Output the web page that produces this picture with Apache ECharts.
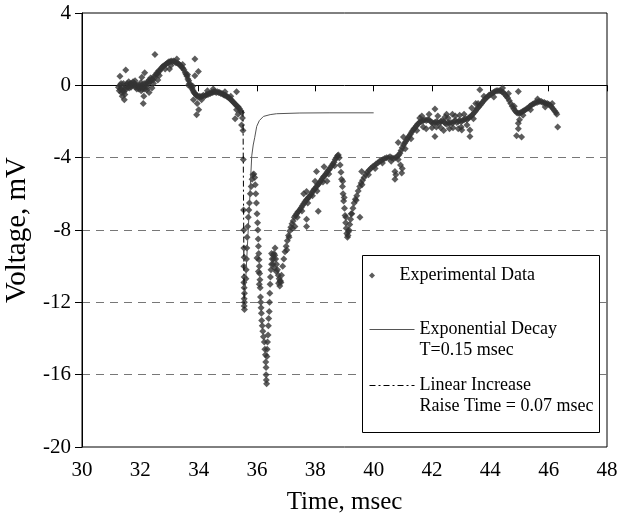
<!DOCTYPE html>
<html>
<head>
<meta charset="utf-8">
<script src="https://cdn.jsdelivr.net/npm/echarts@6.0.0/dist/echarts.min.js"></script>
<style>
html,body{margin:0;padding:0;background:#fff;}
#chart{width:629px;height:521px;}
</style>
</head>
<body>
<div id="chart"></div>
<script>
// ---- data (time in msec, voltage in mV) ----
const preSpikeData = [
[31.25,-0.1],[31.28,-0.3],[31.30,0.0],[31.32,-0.2],[31.35,-0.4],[31.37,-0.1],[31.40,-0.3],[31.42,0.1],[31.45,-0.2],[31.47,-0.5],
[31.50,0.0],[31.52,-0.2],[31.55,0.1],[31.58,-0.1],[31.60,0.2],[31.63,0.0],[31.65,0.1],[31.68,-0.1],[31.70,0.1],[31.73,0.0],
[31.75,0.2],[31.78,0.0],[31.80,0.1],[31.83,-0.1],[31.85,0.0],[31.88,-0.2],[31.90,0.0],[31.93,-0.1],[31.95,-0.2],[31.98,0.0],
[32.00,-0.1],[32.03,-0.3],[32.05,0.0],[32.08,-0.2],[32.10,-0.1],[32.13,0.1],[32.15,-0.2],[32.18,0.0],[32.20,0.1],[32.23,-0.1],
[32.25,0.2],[32.28,0.1],[32.30,0.3],[32.33,0.2],[32.35,0.4],[32.38,0.3],[32.40,0.35],[32.44,0.3],[32.47,0.5],[32.50,0.45],
[32.54,0.6],[32.57,0.7],[32.60,0.65],[32.63,0.8],[32.67,0.8],[32.70,0.9],[32.74,1.0],[32.78,1.05],[32.82,1.1],[32.86,1.15],
[32.90,1.2],[32.94,1.25],[32.98,1.3],[33.02,1.3],[33.06,1.35],[33.10,1.3],[33.14,1.35],[33.18,1.3],[33.22,1.25],[33.26,1.25],
[33.30,1.2],[33.34,1.15],[33.38,1.1],[33.42,1.0],[33.46,0.95],[33.50,0.85],[33.54,0.7],[33.57,0.6],[33.60,0.5],[33.63,0.35],
[33.66,0.25],[33.69,0.1],[33.72,0.0],[33.75,-0.1],[33.78,-0.2],[33.81,-0.3],[33.84,-0.4],[33.87,-0.45],[33.90,-0.5],[33.93,-0.55],
[33.96,-0.6],[34.00,-0.65],[34.04,-0.6],[34.08,-0.65],[34.12,-0.6],[34.16,-0.55],[34.20,-0.6],[34.24,-0.55],[34.28,-0.5],[34.32,-0.5],
[34.36,-0.45],[34.40,-0.45],[34.44,-0.4],[34.48,-0.4],[34.52,-0.35],[34.56,-0.35],[34.60,-0.4],[34.64,-0.35],[34.68,-0.4],[34.72,-0.4],
[34.76,-0.45],[34.80,-0.45],[34.84,-0.5],[34.88,-0.55],[34.92,-0.55],[34.96,-0.6],[35.00,-0.65],[35.04,-0.7],[35.08,-0.75],[35.12,-0.8],
[35.16,-0.9],[35.20,-0.95],[35.24,-1.0],[35.28,-1.1],[35.32,-1.15],[35.36,-1.2],[35.40,-1.3],[35.44,-1.4],[35.47,-1.5],
[31.34,0.1],[31.44,-0.35],[31.62,-0.15],[31.82,0.25],[32.02,0.15],[32.22,-0.25],[32.45,0.1],[32.65,0.55],[32.85,0.9],[33.05,1.1],
[33.25,1.45],[33.45,1.15],[33.62,0.6],[33.80,-0.05],[34.10,-0.8],[34.50,-0.2],[34.90,-0.35],[35.10,-0.6],[35.30,-1.35]
];
const spikeData = [
[35.50,-1.8],[35.52,-2.5],[35.53,-4.1],[35.54,-6.9],[35.55,-8.0],[35.55,-9.0],[35.56,-9.5],[35.55,-10.0],[35.56,-10.6],[35.55,-10.9],
[35.56,-11.2],[35.57,-11.5],[35.56,-11.8],[35.57,-12.0],[35.56,-12.2],[35.57,-12.4],
[35.62,-10.7],[35.63,-10.2],[35.64,-9.6],[35.65,-9.0],[35.66,-8.4],[35.68,-7.8],[35.70,-7.3],[35.72,-6.9],[35.74,-6.5],[35.77,-6.0],
[35.80,-5.6],[35.83,-5.2],[35.86,-4.95],[35.89,-4.9],
[35.92,-5.1],[35.94,-5.5],[35.96,-6.0],[35.98,-6.5],[36.00,-7.1],[36.02,-7.6],[36.03,-8.0],[36.04,-8.5],[36.05,-8.9],[36.06,-9.3],
[36.07,-9.65],[36.08,-10.0],[36.09,-10.4],[36.10,-10.75],[36.11,-11.2],[36.12,-11.7],[36.13,-12.0],[36.15,-12.6],[36.16,-13.0],[36.18,-13.3],
[36.20,-13.6],[36.22,-13.9],[36.25,-14.2],[36.27,-14.6],[36.29,-14.9],[36.30,-15.3],[36.31,-15.6],[36.31,-16.0],[36.32,-16.3],[36.33,-16.5],
[36.00,-9.55],[36.05,-10.3],[36.08,-11.0],[36.14,-12.3],
[36.34,-15.0],[36.35,-14.6],[36.36,-14.2],[36.38,-13.8],[36.39,-13.3],[36.40,-12.9],[36.42,-12.5],[36.43,-12.0],[36.44,-11.5],[36.45,-11.0],
[36.46,-10.6],[36.48,-10.2],[36.50,-9.9],[36.52,-9.6],[36.55,-9.4],[36.58,-9.3],[36.61,-9.4],[36.64,-9.6],[36.67,-9.9],[36.70,-10.2],
[36.73,-10.5],[36.76,-10.7],[36.79,-10.85],[36.82,-10.9],
[36.55,-9.9],[36.60,-10.1],[36.62,-9.0],[36.50,-9.3],[36.57,-9.6],[36.66,-10.3],[36.74,-10.95],[36.78,-11.1]
];
const recoveryData = [
[36.80,-10.8],[36.84,-10.5],[36.88,-10.0],[36.92,-9.6],[36.96,-9.2],[37.00,-8.9],[37.04,-8.6],[37.08,-8.3],[37.12,-8.05],[37.16,-7.85],
[37.20,-7.65],[37.24,-7.5],[37.28,-7.3],[37.32,-7.2],[37.36,-7.1],[37.40,-7.0],[37.44,-6.95],[37.48,-6.85],[37.52,-6.75],[37.56,-6.65],
[37.60,-6.55],[37.64,-6.45],[37.68,-6.35],[37.72,-6.3],[37.76,-6.2],[37.80,-6.15],[37.84,-6.05],[37.88,-5.95],[37.92,-5.85],[37.96,-5.75],
[38.00,-5.7],[38.04,-5.6],[38.08,-5.5],[38.12,-5.45],[38.16,-5.35],[38.20,-5.25],[38.24,-5.15],[38.28,-5.05],[38.32,-5.0],[38.36,-4.9],
[38.40,-4.8],[38.44,-4.7],[38.48,-4.65],[38.52,-4.55],[38.56,-4.45],[38.60,-4.35],[38.64,-4.25],[38.68,-4.1],[38.72,-4.0],[38.76,-3.9],
[38.79,-3.85],[38.82,-4.0],[38.85,-4.4],[38.88,-4.8],[38.90,-5.2],[38.93,-5.6],[38.95,-6.0],[38.97,-6.4],[39.00,-6.8],[39.02,-7.2],
[39.04,-7.6],[39.06,-7.9],[39.08,-8.2],[39.10,-8.4],[39.12,-8.3],[39.15,-8.0],[39.18,-7.7],[39.21,-7.4],[39.25,-7.1],[39.29,-6.8],
[39.33,-6.5],[39.37,-6.3],[39.42,-6.1],[39.47,-5.85],[39.52,-5.6],[39.57,-5.4],[39.62,-5.25],[39.67,-5.1],[39.72,-4.95],[39.78,-4.8],
[39.84,-4.7],[39.90,-4.6],[39.96,-4.5],[40.02,-4.45],[40.08,-4.35],[40.14,-4.3],[40.20,-4.2],[40.26,-4.15],[40.32,-4.1],[40.38,-4.05],
[40.44,-4.0],[40.50,-4.0],[40.56,-3.95],[40.62,-4.0],[40.68,-4.05],[40.74,-4.0],[40.80,-3.95],[40.86,-3.85],[40.90,-3.75],[40.94,-3.6],
[37.02,-9.1],[37.10,-8.4],[37.22,-7.9],[37.38,-7.3],[37.54,-6.95],[37.74,-6.5],[37.90,-6.1],[38.06,-5.85],[38.26,-5.35],[38.46,-4.9],
[38.66,-4.45],[38.94,-5.3],[38.99,-6.2],[39.05,-7.3],[39.14,-8.1],[39.23,-7.1],[39.40,-6.35],[39.60,-5.5],[39.82,-4.95],[40.05,-4.6],
[40.30,-4.3],[40.60,-4.2],[40.84,-4.1]
];
const lateData = [
[40.98,-3.45],[41.02,-3.3],[41.06,-3.2],[41.10,-3.1],[41.14,-3.0],[41.18,-2.9],[41.22,-2.8],[41.26,-2.7],[41.30,-2.6],[41.34,-2.5],
[41.38,-2.4],[41.42,-2.35],[41.46,-2.25],[41.50,-2.15],[41.55,-2.1],[41.60,-2.0],[41.65,-2.0],[41.70,-1.95],[41.75,-1.9],[41.80,-1.95],
[41.85,-1.9],[41.90,-1.9],[41.95,-2.0],[42.00,-2.05],[42.05,-2.1],[42.10,-2.05],[42.15,-2.0],[42.20,-2.05],[42.25,-2.1],[42.30,-2.0],
[42.35,-1.95],[42.40,-2.0],[42.45,-2.1],[42.50,-2.15],[42.55,-2.05],[42.60,-2.1],[42.65,-2.05],[42.70,-2.1],[42.75,-2.0],[42.80,-1.95],
[42.85,-2.05],[42.90,-2.0],[42.95,-1.95],[43.00,-2.0],[43.05,-1.95],[43.10,-1.9],[43.15,-1.85],[43.20,-1.9],[43.25,-1.8],[43.30,-1.75],
[43.35,-1.7],[43.40,-1.6],[43.45,-1.5],[43.50,-1.4],[43.55,-1.3],[43.60,-1.2],[43.65,-1.1],[43.70,-1.0],[43.75,-0.9],[43.80,-0.8],
[43.85,-0.7],[43.90,-0.65],[43.95,-0.55],[44.00,-0.5],[44.05,-0.45],[44.10,-0.4],[44.15,-0.35],[44.20,-0.3],[44.25,-0.3],[44.30,-0.3],
[44.35,-0.3],[44.40,-0.35],[44.45,-0.4],[44.50,-0.5],[44.55,-0.6],[44.60,-0.7],[44.65,-0.85],[44.70,-1.0],[44.75,-1.15],[44.80,-1.3],
[44.85,-1.4],[44.90,-1.5],[44.95,-1.55],[45.00,-1.55],[45.05,-1.5],[45.10,-1.45],[45.15,-1.4],[45.20,-1.35],[45.25,-1.3],[45.30,-1.25],
[45.35,-1.15],[45.40,-1.1],[45.45,-1.05],[45.50,-1.0],[45.55,-0.95],[45.60,-0.95],[45.65,-0.9],[45.70,-0.9],[45.75,-0.9],[45.80,-0.95],
[45.85,-0.95],[45.90,-1.0],[45.95,-1.0],[46.00,-1.05],[46.05,-1.1],[46.10,-1.2],[46.15,-1.3],[46.20,-1.4],[46.25,-1.5],[46.28,-1.6],
[41.70,-2.3],[41.90,-1.6],[42.00,-2.35],[42.20,-1.7],[42.30,-2.35],[42.60,-2.4],[42.80,-1.7],[43.00,-2.3],[43.10,-1.6],[43.20,-2.2],
[41.65,-1.7],[42.45,-1.75],[42.95,-1.65],[41.08,-3.5],[41.28,-2.95],[41.48,-2.5],[41.58,-1.8],[42.15,-2.3],[42.55,-1.8],[42.72,-2.35],
[43.42,-1.85],[43.58,-1.0],[43.78,-0.6],[44.12,-0.65],[44.42,-0.15],[44.62,-0.45],[44.82,-1.15],[45.12,-1.65],[45.38,-1.35],[45.62,-0.75],
[45.88,-1.2],[46.12,-1.0]
];
const outlierData = [
[31.45,-0.8],[31.50,0.85],[31.38,-0.6],[32.10,-1.0],[32.12,-0.6],[32.15,0.7],[32.05,0.45],[32.50,1.7],[32.30,-0.4],[32.40,-0.15],[31.30,0.5],
[33.87,1.45],[33.99,0.77],[33.87,0.53],[33.93,-1.62],[34.00,-1.35],[33.95,-1.0],[35.25,-1.85],[35.47,-2.2],[35.30,-0.35],[33.65,0.0],
[32.60,0.3],[33.00,0.9],[33.82,-0.8],[34.30,-0.3],[35.35,-1.6],
[38.04,-4.76],[37.99,-5.3],[38.10,-6.97],[37.70,-5.87],[37.70,-7.4],[37.70,-7.8],[39.59,-4.76],[39.53,-7.3],[40.73,-4.76],[40.73,-5.2],
[37.60,-6.0],[37.30,-7.8],[38.40,-5.3],[38.30,-4.5],
[46.31,-2.3],[43.64,-0.24],[44.96,-0.34],[44.90,-2.79],[45.07,-2.86],[44.96,-2.1],[44.96,-2.4],[45.00,-1.9],[42.10,-1.31],[42.10,-2.83],
[43.30,-2.83],[43.30,-2.47],[43.02,-2.47],[40.84,-3.16],[41.02,-2.86],[40.76,-4.94],[40.96,-4.85],[40.92,-4.4],[40.98,-4.6],[43.36,-1.26],
[41.80,-2.4],[42.40,-2.5],[42.70,-1.6],[43.50,-1.0],[42.90,-2.4],[42.50,-1.6]
];
const expDecayCurve = [
[35.56,-12.3],[35.62,-10.5],[35.68,-8.6],[35.74,-6.7],[35.78,-5.2],[35.82,-3.9],[35.87,-3.3],[35.92,-2.9],[35.99,-2.27],[36.08,-1.95],
[36.22,-1.72],[36.45,-1.62],[36.67,-1.57],[37.47,-1.53],[38.50,-1.52],[40.00,-1.52]
];
const linearRiseLine = [[35.52,-1.4],[35.56,-12.3]];

const xMin = 30, xMax = 48, xStep = 2;
const yMin = -20, yMax = 4, yStep = 4;

const seriesNames = ['Experimental Data', 'Exponential Decay', 'Linear Increase'];
const legendLabels = {
  'Experimental Data': 'Experimental Data',
  'Exponential Decay': '\nExponential Decay\nT=0.15 msec',
  'Linear Increase': '\nLinear Increase\nRaise Time = 0.07 msec'
};

const experimentalData = [].concat(preSpikeData, spikeData, recoveryData, lateData, outlierData);

const FONT = "'Liberation Serif', 'Times New Roman', serif";
const chart = echarts.init(document.getElementById('chart'), null, {renderer: 'canvas'});

const legendCommon = {
  orient: 'vertical',
  padding: 0,
  itemWidth: 45,
  itemHeight: 6,
  selectedMode: false,
  textStyle: {fontFamily: FONT, fontSize: 18, color: '#000', lineHeight: 21},
  lineStyle: {width: 1},
  formatter: function (name) { return legendLabels[name]; },
  z: 10
};

chart.setOption({
  animation: false,
  backgroundColor: '#fff',
  grid: {
    left: 82, right: 22, top: 13, bottom: 74,
    show: true, borderColor: '#000', borderWidth: 1, backgroundColor: 'transparent',
    containLabel: false, outerBoundsMode: 'none'
  },
  xAxis: [
    {
      type: 'value', min: xMin, max: xMax, interval: xStep, position: 'bottom',
      axisLine: {show: false, onZero: false},
      axisTick: {show: false},
      splitLine: {show: false},
      axisLabel: {fontFamily: FONT, fontSize: 21, color: '#000', margin: 13},
      name: 'Time, msec', nameLocation: 'middle', nameGap: 43,
      nameTextStyle: {fontFamily: FONT, fontSize: 25, color: '#000'}
    },
    {
      type: 'value', min: xMin, max: xMax, interval: xStep, position: 'bottom',
      axisLine: {show: true, onZero: true, lineStyle: {color: '#000', width: 1}},
      axisTick: {show: true, length: 6, lineStyle: {color: '#000', width: 1}},
      axisLabel: {show: false},
      splitLine: {show: false}
    }
  ],
  yAxis: {
    type: 'value', min: yMin, max: yMax, interval: yStep,
    axisLine: {show: true, onZero: false, lineStyle: {color: '#000', width: 1}},
    axisTick: {show: true, length: 7, lineStyle: {color: '#000', width: 1}},
    axisLabel: {fontFamily: FONT, fontSize: 21, color: '#000', margin: 11},
    splitLine: {show: true, showMinLine: false, showMaxLine: false,
      lineStyle: {color: '#777', width: 1, type: [8, 6]}},
    name: 'Voltage, mV', nameLocation: 'middle', nameGap: 44, nameRotate: 90,
    nameTextStyle: {fontFamily: FONT, fontSize: 29, color: '#000'}
  },
  legend: [
    Object.assign({}, legendCommon, {left: 369, top: 265,
      data: [{name: 'Experimental Data', icon: 'path://M0,-1L1,0L0,1L-1,0Z', itemStyle: {color: '#333333'}}]}),
    Object.assign({}, legendCommon, {left: 369, top: 298,
      data: [{name: 'Exponential Decay', itemStyle: {opacity: 0}}]}),
    Object.assign({}, legendCommon, {left: 369, top: 354,
      data: [{name: 'Linear Increase', itemStyle: {opacity: 0}}]})
  ],
  graphic: [
    {type: 'rect', left: 362, top: 255, z: 5,
     shape: {width: 237, height: 177},
     style: {fill: '#fff', stroke: '#000', lineWidth: 1}}
  ],
  series: [
    {
      name: seriesNames[0], type: 'scatter', xAxisIndex: 0,
      data: experimentalData, symbol: 'diamond', symbolSize: 7,
      itemStyle: {color: '#333333'}, z: 3
    },
    {
      name: seriesNames[1], type: 'line', xAxisIndex: 0,
      data: expDecayCurve, symbol: 'none', showSymbol: false, smooth: false,
      itemStyle: {color: '#555555'},
      lineStyle: {color: '#555555', width: 1}, z: 4
    },
    {
      name: seriesNames[2], type: 'line', xAxisIndex: 0,
      data: linearRiseLine, symbol: 'none', showSymbol: false,
      itemStyle: {color: '#000000'},
      lineStyle: {color: '#000000', width: 1, type: [6, 3, 2, 3]}, z: 4
    }
  ]
});
</script>
</body>
</html>
